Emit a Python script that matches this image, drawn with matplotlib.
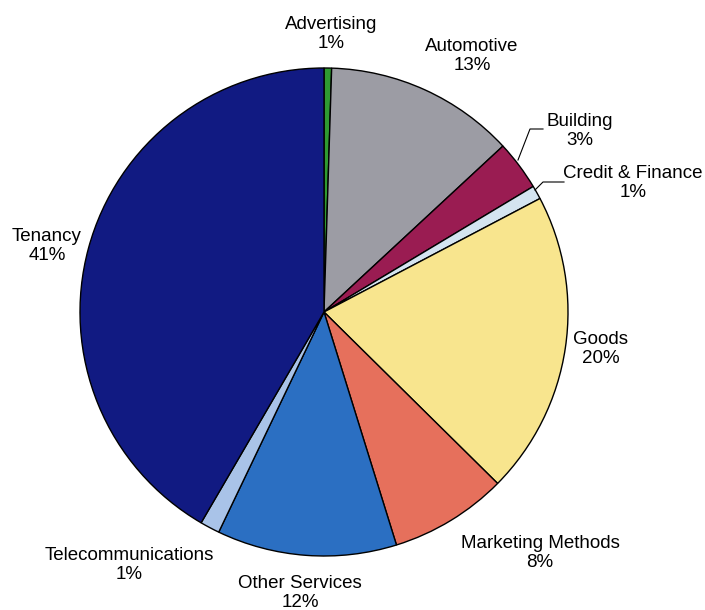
import numpy as np
import matplotlib.pyplot as plt

plt.rcParams['font.family'] = ['Liberation Sans', 'DejaVu Sans']

# share of complaints by category
categories = ["Advertising", "Automotive", "Building", "Credit & Finance", "Goods",
              "Marketing Methods", "Other Services", "Telecommunications", "Tenancy"]
values = [0.5, 12.6, 3.3, 0.9, 20.1, 7.8, 11.9, 1.3, 41.6]
pct_labels = ["1%", "13%", "3%", "1%", "20%", "8%", "12%", "1%", "41%"]

colors = ["#2f9a32", "#9c9ca4", "#9a1c52", "#d4e4f0", "#f8e58e",
          "#e6705c", "#2b6fc2", "#a9c3e8", "#111a82"]

# label block centres in pixels (x, y from top)
label_pos = [(331, 34), (472, 56), (580, 131), (633, 183), (601, 349),
             (540, 553), (300, 593), (129, 565), (47, 246)]

W, H = 705, 610
fig = plt.figure(figsize=(W / 100, H / 100), dpi=100)
ax = fig.add_axes([0, 0, 1, 1])

cx, cy, r = 324, H - 312, 244
ax.pie(values, colors=colors, startangle=90, counterclock=False,
       center=(cx, cy), radius=r, frame=True,
       wedgeprops=dict(edgecolor='black', linewidth=1.0))
ax.set_xlim(0, W)
ax.set_ylim(0, H)
ax.set_aspect('equal')
ax.axis('off')

for name, pct, (x, y) in zip(categories, pct_labels, label_pos):
    ax.text(x, H - y, name + "\n" + pct, ha='center', va='center',
            fontsize=13.5, linespacing=1.2, color='black')

# leader lines for the two small slices on the right
ax.plot([518, 530, 543], [H - 160, H - 129, H - 129], color='black', lw=0.8)
ax.plot([535, 543, 564], [H - 190, H - 182, H - 182], color='black', lw=0.8)

plt.savefig("out.png", dpi=100)
